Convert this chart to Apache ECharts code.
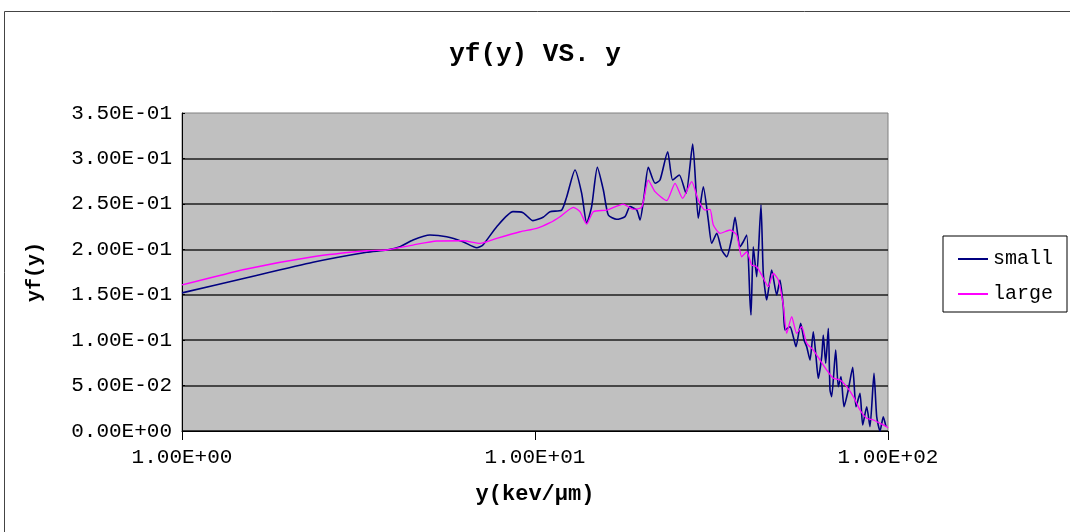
<!DOCTYPE html>
<html>
<head>
<meta charset="utf-8">
<script src="https://cdn.jsdelivr.net/npm/echarts@6/dist/echarts.min.js"></script>
<style>
  html, body { margin: 0; padding: 0; background: #fff; }
  #chartDom { width: 1070px; height: 532px; }
</style>
</head>
<body>
<div id="chartDom"></div>
<script>
// values (x: keV/um, log scale)
const smallX = [1, 1.525, 2.35, 3.336, 3.8, 4.146, 4.512, 5.04, 5.62, 6.25, 6.84, 7.12, 7.79, 8.66, 9.25, 9.87,
  10.54, 11.03, 11.9, 12.3, 12.98, 13.56, 14.01, 14.47, 15.02, 15.62, 16.13, 17.03, 17.99, 18.58, 19.42, 19.84,
  20.36, 20.94, 21.88, 22.6, 23.76, 24.55, 25.63, 26.78, 27.97, 29.01, 29.98, 30.97, 31.67, 32.72, 33.8, 34.92,
  36.08, 36.87, 38.08, 38.91, 39.79, 40.64, 40.92, 41.53, 42.46, 43.67, 44.33, 45.33, 46.83, 48.38, 49.44, 50.51,
  51.07, 52.77, 53.91, 54.87, 56.58, 57.81, 58.84, 60.12, 61.43, 62.52, 63.46, 64.89, 65.57, 66.6, 67.75, 68.5,
  69.26, 71.09, 72.31, 73.59, 75.05, 77.17, 79.43, 81.15, 83.3, 84.78, 87.03, 88.92, 91.27, 92.9, 94.91, 96.98, 98.7];
const smallY = [0.152, 0.1687, 0.1857, 0.1967, 0.1992, 0.2028, 0.2102, 0.2157, 0.2138, 0.2083, 0.2017, 0.2047, 0.2249, 0.2414, 0.2403, 0.2315,
  0.2352, 0.2414, 0.2432, 0.2579, 0.2873, 0.2616, 0.2286, 0.2469, 0.2902, 0.2652, 0.2377, 0.233, 0.2359, 0.2469, 0.2432, 0.2322,
  0.2579, 0.2902, 0.2726, 0.2762, 0.3074, 0.2762, 0.2818, 0.2616, 0.3159, 0.2341, 0.2689, 0.2322, 0.2066, 0.2176, 0.1992, 0.1918,
  0.2121, 0.2352, 0.2028, 0.2083, 0.2157, 0.1442, 0.1277, 0.2028, 0.1698, 0.2487, 0.1736, 0.1442, 0.1772, 0.1497, 0.1662, 0.1368,
  0.1112, 0.1148, 0.1038, 0.0928, 0.1185, 0.1002, 0.0928, 0.0781, 0.1093, 0.0818, 0.058, 0.0818, 0.1057, 0.0745, 0.113, 0.0451,
  0.0378, 0.0891, 0.0488, 0.0598, 0.0267, 0.0451, 0.0701, 0.0267, 0.0415, 0.0066, 0.0267, 0.0047, 0.0635, 0.0157, 0.0, 0.0157, 0.0047];

const largeX = [1, 1.525, 2.35, 3.336, 3.8, 4.512, 5.27, 6.25, 6.99, 7.79, 9.07, 10.11, 11.03, 11.77, 12.84, 13.41,
  14.01, 14.63, 15.97, 17.79, 18.99, 20.06, 20.94, 21.88, 23.61, 24.93, 26.2, 27.79, 29.01, 30.31, 31.32, 32.0,
  33.43, 35.68, 37.27, 38.51, 39.79, 41.11, 42.46, 43.87, 45.81, 47.33, 48.9, 50.51, 51.64, 53.36, 55.13, 56.94,
  58.84, 61.43, 64.18, 67.05, 69.98, 73.11, 76.38, 79.77, 83.3, 87.03, 90.85, 94.91, 99.16, 100];
const largeY = [0.1607, 0.1783, 0.1918, 0.1984, 0.1992, 0.2047, 0.2091, 0.2094, 0.2066, 0.2121, 0.2193, 0.2231, 0.2293, 0.2359, 0.2462, 0.2414,
  0.2278, 0.2414, 0.2432, 0.2498, 0.244, 0.2462, 0.2762, 0.2634, 0.2535, 0.2726, 0.2561, 0.2744, 0.2542, 0.2432, 0.244, 0.2267,
  0.2176, 0.2212, 0.2157, 0.1918, 0.1973, 0.1827, 0.1808, 0.1717, 0.1588, 0.1736, 0.1662, 0.1387, 0.1075, 0.1258, 0.1075, 0.1148,
  0.0965, 0.0891, 0.0781, 0.0671, 0.058, 0.0561, 0.0488, 0.0378, 0.0231, 0.014, 0.0121, 0.0085, 0.0047, 0.0033];

const seriesNames = ['small', 'large'];

const FONT = '"Liberation Mono", "DejaVu Sans Mono", monospace';

function sci(v) {
  if (v === 0) return '0.00E+00';
  const parts = v.toExponential(2).split('e');
  const n = parseInt(parts[1], 10);
  return parts[0] + 'E' + (n < 0 ? '-' : '+') + String(Math.abs(n)).padStart(2, '0');
}

const pairs = (xs, ys) => xs.map((x, i) => [x, ys[i]]);

const chart = echarts.init(document.getElementById('chartDom'));
chart.setOption({
  animation: false,
  backgroundColor: '#fff',
  title: {
    text: 'yf(y) VS. y',
    left: 'center',
    top: 36,
    textStyle: { fontFamily: FONT, fontSize: 26, fontWeight: 'bold', color: '#000' }
  },
  graphic: [{
    type: 'rect',
    shape: { x: 4.5, y: 11.5, width: 1100, height: 600 },
    style: { fill: 'none', stroke: '#444', lineWidth: 1 },
    silent: true
  }],
  legend: {
    orient: 'vertical',
    left: 943,
    top: 236,
    data: seriesNames,
    icon: 'rect',
    itemWidth: 30,
    itemHeight: 2,
    itemGap: 15,
    padding: [13, 14, 8, 15],
    backgroundColor: '#fff',
    borderColor: '#000',
    borderWidth: 1,
    textStyle: { fontFamily: FONT, fontSize: 20, color: '#000' }
  },
  grid: {
    left: 182, right: 182, top: 113, bottom: 101,
    show: true,
    backgroundColor: '#C0C0C0',
    borderColor: '#808080',
    borderWidth: 1
  },
  xAxis: {
    type: 'log',
    logBase: 10,
    min: 1,
    max: 100,
    name: 'y(kev/μm)',
    nameLocation: 'middle',
    nameGap: 52,
    nameTextStyle: { fontFamily: FONT, fontSize: 22, fontWeight: 'bold', color: '#000' },
    axisLine: { lineStyle: { color: '#000', width: 1 } },
    axisTick: { show: true, length: 9, lineStyle: { color: '#000' } },
    axisLabel: { formatter: sci, margin: 16, fontFamily: FONT, fontSize: 21, color: '#000' },
    splitLine: { show: false },
    minorTick: { show: false }
  },
  yAxis: {
    type: 'value',
    min: 0,
    max: 0.35,
    interval: 0.05,
    name: 'yf(y)',
    nameLocation: 'middle',
    nameGap: 137,
    nameTextStyle: { fontFamily: FONT, fontSize: 20, fontWeight: 'bold', color: '#000' },
    axisLine: { show: true, lineStyle: { color: '#000', width: 1 } },
    axisTick: { show: true, inside: true, length: 3, lineStyle: { color: '#000' } },
    axisLabel: { formatter: sci, margin: 10, fontFamily: FONT, fontSize: 21, color: '#000' },
    splitLine: { show: true, showMaxLine: false, lineStyle: { color: '#1e1e1e', width: 1.5 } }
  },
  series: [
    {
      name: 'small',
      type: 'line',
      data: pairs(smallX, smallY),
      showSymbol: false,
      smooth: 0.2,
      color: '#000080',
      lineStyle: { color: '#000080', width: 1.6 },
      z: 3
    },
    {
      name: 'large',
      type: 'line',
      data: pairs(largeX, largeY),
      showSymbol: false,
      smooth: 0.2,
      color: '#FF00FF',
      lineStyle: { color: '#FF00FF', width: 1.3 },
      z: 4
    }
  ]
});
</script>
</body>
</html>
